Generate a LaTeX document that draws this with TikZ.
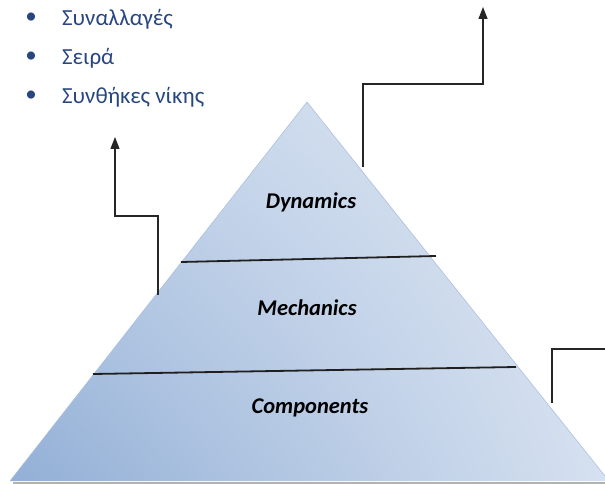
\documentclass[tikz,border=0pt]{standalone}
\usepackage{fontspec}
\setmainfont{Carlito}
\usetikzlibrary{arrows.meta,shadings}
\definecolor{listblue}{RGB}{40,70,128}
\definecolor{pyrdark}{RGB}{146,175,214}
\definecolor{pyrmid}{RGB}{190,208,232}
\definecolor{pyrlight}{RGB}{226,233,244}
\definecolor{pyrlr}{RGB}{214,225,240}
\definecolor{pyredge}{RGB}{170,193,224}
\begin{document}
\begin{tikzpicture}[x=1pt,y=-1pt,
  layerlabel/.style={font=\fontsize{22.5}{27}\selectfont\bfseries\itshape, text=black, inner sep=0pt},
  item/.style={font=\fontsize{23}{27}\selectfont, text=listblue, anchor=base west, inner sep=0pt},
  dot/.style={font=\fontsize{23}{27}\selectfont, text=listblue, inner sep=0pt},
  link/.style={draw=black!85, line width=1.3pt},
  arrowlink/.style={link, -{Triangle[length=12pt,width=9pt]}},
  divider/.style={draw=black!88, line width=1.8pt}]
\useasboundingbox (0,0) rectangle (605,484);

% pyramid corners
\coordinate (apex) at (307,102);
\coordinate (bl) at (10,481);
\coordinate (br) at (609,481);

% soft shadow under the base
\draw[black!30, line width=1.6pt] (13,483) -- (605,483);

% pyramid body
\shade[lower left=pyrdark, upper left=pyrmid, upper right=pyrlight, lower right=pyrlr]
  (bl) -- (apex) -- (br) -- cycle;
\draw[pyredge, line width=0.6pt] (bl) -- (apex) -- (br);

% layer dividers
\coordinate (d1l) at (181,262);
\coordinate (d1r) at (436,256);
\coordinate (d2l) at (93,374);
\coordinate (d2r) at (516,367);
\draw[divider] (d1l) -- (d1r);
\draw[divider] (d2l) -- (d2r);

% layer labels
\node[layerlabel] (dyn) at (311,202) {Dynamics};
\node[layerlabel] (mech) at (307,308) {Mechanics};
\node[layerlabel] (comp) at (310,408) {Components};

% bullet list
\node[dot] (b1) at (31,18) {•};
\node[dot] (b2) at (31,57) {•};
\node[dot] (b3) at (31,96) {•};
\node[item] (t1) at (62,26) {Συναλλαγές};
\node[item] (t2) at (62,65) {Σειρά};
\node[item] (t3) at (62,104) {Συνθήκες νίκης};

% connector leaving the dynamics layer
\coordinate (r1a) at (363,167);
\coordinate (r1b) at (363,84);
\coordinate (r1c) at (483,84);
\coordinate (r1d) at (483,7);
\draw[arrowlink] (r1a) -- (r1b) -- (r1c) -- (r1d);

% connector leaving the mechanics layer
\coordinate (l1a) at (158,295);
\coordinate (l1b) at (158,216);
\coordinate (l1c) at (115,216);
\coordinate (l1d) at (115,137);
\draw[arrowlink] (l1a) -- (l1b) -- (l1c) -- (l1d);

% connector leaving the components layer
\coordinate (c1a) at (552,403);
\coordinate (c1b) at (552,349);
\coordinate (c1c) at (606,349);
\draw[link] (c1a) -- (c1b) -- (c1c);
\end{tikzpicture}
\end{document}
